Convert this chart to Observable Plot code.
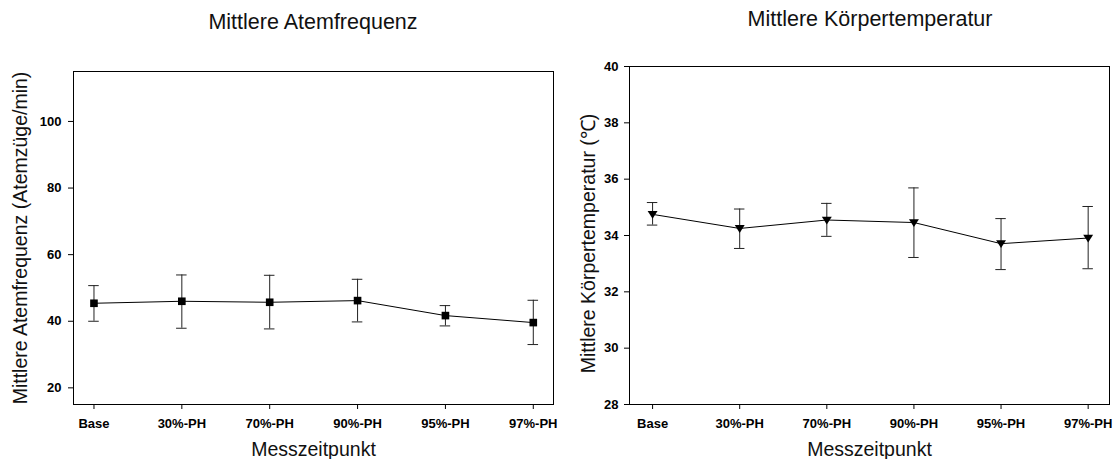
<!DOCTYPE html>
<html>
<head>
<meta charset="utf-8">
<script src="https://cdn.jsdelivr.net/npm/d3@7"></script>
<script src="https://cdn.jsdelivr.net/npm/@observablehq/plot@0.6"></script>
<style>
  html, body { margin: 0; padding: 0; background: #fff; }
  #wrap { position: relative; width: 1114px; height: 459px; overflow: hidden; font-family: "Liberation Sans", Arial, sans-serif; }
  .title { position: absolute; z-index: 2; font-size: 21.5px; line-height: 21px; color: #111; white-space: nowrap; transform: translateX(-50%); }
  .panel { position: absolute; top: 0; z-index: 1; }
  .panel svg { display: block; overflow: visible; background: transparent !important; }
</style>
</head>
<body>
<div id="wrap">
  <div class="panel" id="p1" style="left:0px;"></div>
  <div class="panel" id="p2" style="left:557px;"></div>
  <div class="title" id="t1" style="left:313px; top:12px;">Mittlere Atemfrequenz</div>
  <div class="title" id="t2" style="left:870px; top:9px;">Mittlere Körpertemperatur</div>
</div>
<script>
// ---- data ----
const categories = ["Base", "30%-PH", "70%-PH", "90%-PH", "95%-PH", "97%-PH"];
const atemMean  = [45.4, 46.0, 45.7, 46.2, 41.7, 39.6];
const atemUpper = [50.7, 53.9, 53.8, 52.6, 44.7, 46.3];
const atemLower = [40.0, 37.9, 37.7, 39.8, 38.6, 33.0];
const tempMean  = [34.75, 34.25, 34.55, 34.46, 33.71, 33.91];
const tempUpper = [35.17, 34.94, 35.14, 35.69, 34.60, 35.03];
const tempLower = [34.37, 33.54, 33.97, 33.22, 32.79, 32.82];
const atemTicks = [20, 40, 60, 80, 100];
const tempTicks = [28, 30, 32, 34, 36, 38, 40];
const xLabel = "Messzeitpunkt";
const atemYLabel = "Mittlere Atemfrequenz (Atemzüge/min)";
const tempYLabel = "Mittlere Körpertemperatur (℃)";

function rows(mean, lo, hi) {
  return categories.map((c, i) => ({i, cat: c, mean: mean[i], lo: lo[i], hi: hi[i]}));
}

const triangleDown = {
  draw(context, size) {
    const s = Math.sqrt(size);
    const w = 0.56 * s, top = -0.38 * s, bot = 0.5 * s;
    context.moveTo(-w, top);
    context.lineTo(w, top);
    context.lineTo(0, bot);
    context.closePath();
  }
};

function makeChart({data, yDomain, yTicks, xDomain, symbol, r, yLabel, margins, yLabelDx, yLabelDy, yPad}) {
  const capHalf = 0.06;
  return Plot.plot({
    width: 557,
    height: 459,
    marginLeft: margins.left,
    marginRight: margins.right,
    marginTop: margins.top,
    marginBottom: margins.bottom,
    style: {fontFamily: "'Liberation Sans', Arial, sans-serif", fontSize: "13px", color: "#000", background: "transparent", overflow: "visible"},
    x: {type: "linear", domain: xDomain},
    y: {domain: yDomain},
    marks: [
      Plot.frame({stroke: "#000", strokeWidth: 1}),
      Plot.axisX({ticks: d3.range(categories.length), tickFormat: i => categories[i], tickSize: 5, tickPadding: 9, fontWeight: "bold", fontSize: 13, label: null}),
      Plot.axisY({ticks: yTicks, tickSize: 5, tickPadding: yPad, fontWeight: "bold", fontSize: 13, label: null}),
      Plot.ruleX(data, {x: "i", y1: "lo", y2: "hi", stroke: "#222", strokeWidth: 1}),
      Plot.ruleY(data, {y: "hi", x1: d => d.i - capHalf, x2: d => d.i + capHalf, stroke: "#222", strokeWidth: 1}),
      Plot.ruleY(data, {y: "lo", x1: d => d.i - capHalf, x2: d => d.i + capHalf, stroke: "#222", strokeWidth: 1}),
      Plot.line(data, {x: "i", y: "mean", stroke: "#000", strokeWidth: 1}),
      Plot.dot(data, {x: "i", y: "mean", symbol, r, fill: "#000", stroke: "none"}),
      Plot.text([xLabel], {text: d => d, frameAnchor: "bottom", textAnchor: "middle", lineAnchor: "middle", dy: 45, fontSize: 19.5, fill: "#111"}),
      Plot.text([yLabel], {text: d => d, frameAnchor: "left", textAnchor: "middle", lineAnchor: "middle", dx: yLabelDx, dy: yLabelDy, rotate: -90, fontSize: 19.5, fill: "#111"})
    ]
  });
}

document.getElementById("p1").appendChild(makeChart({
  data: rows(atemMean, atemLower, atemUpper),
  yDomain: [15, 115],
  yTicks: atemTicks,
  xDomain: [-0.233, 5.23],
  symbol: "square",
  r: 4.3,
  yLabel: atemYLabel,
  margins: {left: 73, right: 4, top: 71, bottom: 55},
  yLabelDx: -53, yLabelDy: 0, yPad: 7
}));

document.getElementById("p2").appendChild(makeChart({
  data: rows(tempMean, tempLower, tempUpper),
  yDomain: [28, 40],
  yTicks: tempTicks,
  xDomain: [-0.265, 5.245],
  symbol: triangleDown,
  r: 5,
  yLabel: tempYLabel,
  margins: {left: 72, right: 5, top: 66, bottom: 55},
  yLabelDx: -41, yLabelDy: 8, yPad: 6
}));
</script>
</body>
</html>
